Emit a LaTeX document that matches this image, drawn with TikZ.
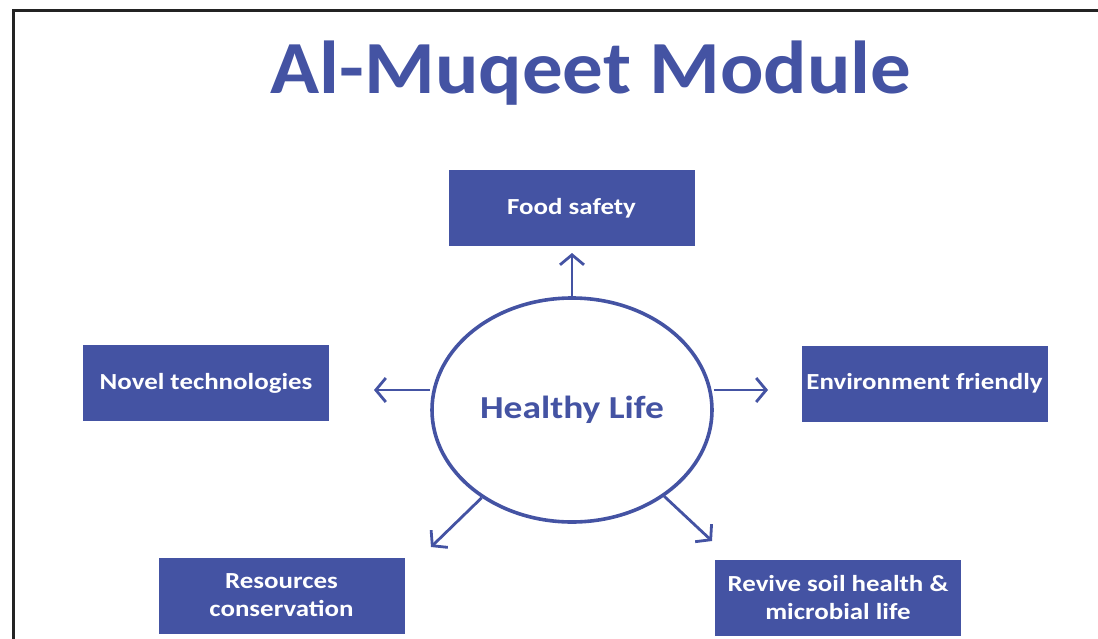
\documentclass[tikz,border=0pt]{standalone}
\usepackage{fontspec}
\setmainfont{Carlito}
\newfontfamily\widefont[FakeStretch=1.17]{Carlito}
\newfontfamily\titlefont[FakeStretch=1.08]{Carlito}
\usetikzlibrary{shapes.geometric,arrows.meta}
\definecolor{modblue}{RGB}{68,83,163}
\definecolor{framegray}{RGB}{35,35,35}

\begin{document}
\begin{tikzpicture}[x=1pt,y=-1pt]
	\tikzstyle{every node}+=[inner sep=0pt]
	\tikzstyle{box}=[fill=modblue,minimum width=246pt,minimum height=76pt,text=white,align=center,font=\widefont\fontsize{23}{28}\selectfont\bfseries]
	\tikzstyle{arr}=[modblue,line width=2.8pt,-{Straight Barb[length=10pt,width=24pt]}]
	\useasboundingbox (0,0) rectangle (1098,638);
	% frame
	\draw [framegray,line width=3pt] (13,640) -- (13,10) -- (1100,10);
	% title
	\node [anchor=base,text=modblue,font=\titlefont\fontsize{75}{80}\selectfont\bfseries] (title) at (591,93) {Al-Muqeet Module};
	% centre
	\node [ellipse,draw=modblue,line width=3.6pt,minimum width=280pt,minimum height=224pt,text=modblue,font=\widefont\fontsize{32}{36}\selectfont\bfseries] (hl) at (572,410) {Healthy Life};
	% boxes
	\node [box] (food) at (571.5,208) {Food safety};
	\node [box] (novel) at (206,383) {Novel technologies};
	\node [box] (env) at (924.5,383.5) {Environment friendly};
	\node [box] (res) at (281.5,595.5) {Resources\\conservation};
	\node [box] (soil) at (838,598) {Revive soil health \&\\microbial life};
	% arrows
	\coordinate (tipU) at (572,253);
	\coordinate (tipL) at (374,390);
	\coordinate (tipR) at (768,390);
	\coordinate (tipLL) at (431,547);
	\coordinate (tipLR) at (712,541);
	\draw [arr] (hl) -- (tipU);
	\draw [arr] (hl.west |- tipL) -- (tipL);
	\draw [arr] (hl.east |- tipR) -- (tipR);
	\draw [arr] (hl) -- (tipLL);
	\draw [arr] (hl) -- (tipLR);
\end{tikzpicture}
\end{document}
